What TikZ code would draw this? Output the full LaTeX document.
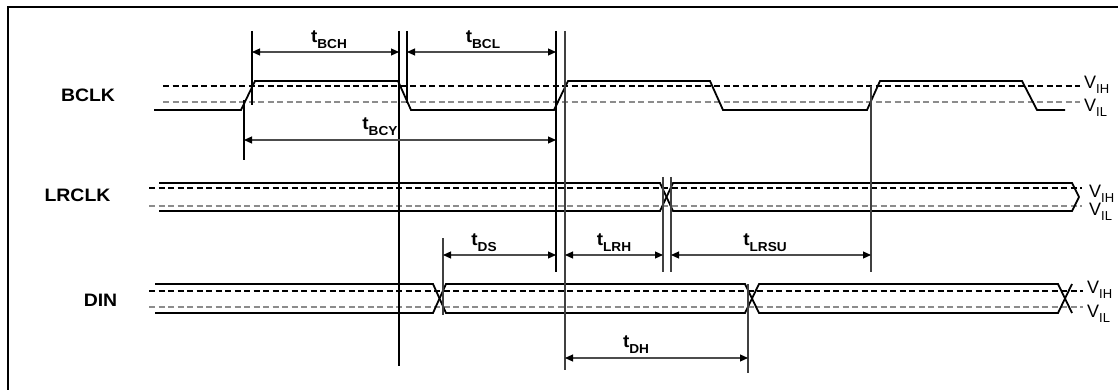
\documentclass[tikz,border=0pt]{standalone}
\usepackage{fontspec}
\setmainfont{Liberation Sans}
\usetikzlibrary{arrows.meta}
\newcommand\tlab[1]{\scalebox{1.05}[1]{\fontsize{18}{18}\selectfont\bfseries t\raisebox{-6pt}{\fontsize{13}{13}\selectfont #1}}}
\newcommand\vlab[1]{{\fontsize{18}{18}\selectfont V}\raisebox{-5pt}{\fontsize{13}{13}\selectfont #1}}
\newcommand\slab[1]{\scalebox{1.08}[1]{\fontsize{18}{18}\selectfont\bfseries #1}}
\begin{document}
\begin{tikzpicture}[x=1pt,y=-1pt,
  frame/.style={line width=2pt},
  sig/.style={line width=1.8pt,line join=miter},
  vih/.style={line width=1.2pt,dash pattern=on 6pt off 3.5pt},
  vil/.style={line width=1.2pt,black!45,dash pattern=on 6pt off 3.5pt},
  vthick/.style={line width=1.7pt},
  vthin/.style={line width=1.1pt,black!75},
  dim/.style={line width=1.1pt,black!70,{Triangle[length=8pt,width=7pt,color=black]}-{Triangle[length=8pt,width=7pt,color=black]}},
  lab/.style={inner sep=0pt},
  vl/.style={inner sep=0pt,anchor=base west}]
\clip (0,0) rectangle (1118,390);
\fill[white] (0,0) rectangle (1118,390);
\draw[frame] (7.5,7.5) rectangle (1130,400);

% signal names
\node[lab] (nBCLK) at (88,95) {\slab{BCLK}};
\node[lab] (nLRCLK) at (77.5,195.5) {\slab{LRCLK}};
\node[lab] (nDIN) at (100.5,300) {\slab{DIN}};

% BCLK thresholds
\draw[vih] (163,86) -- (1080,86);
\draw[vil] (163,102) -- (1080,102);
\draw[sig] (154,110)--(241,110)--(255,81)--(398,81)--(411,110)--(554,110)--(568,81)--(710,81)--(723,110)--(867,110)--(880,81)--(1022,81)--(1037,110)--(1065,110);
\node[vl] (bIH) at (1084,89) {\vlab{IH}};
\node[vl] (bIL) at (1084,112) {\vlab{IL}};

% LRCLK
\draw[vih] (149,188) -- (1082,188);
\draw[vil] (149,206) -- (1082,206);
\draw[sig] (159,183)--(660,183)--(673,211)--(1072,211)--(1079,197);
\draw[sig] (159,211)--(660,211)--(673,183)--(1072,183)--(1079,197);
\node[vl] (lIH) at (1089,197) {\vlab{IH}};
\node[vl] (lIL) at (1089,215) {\vlab{IL}};

% DIN
\draw[vih] (149,291) -- (1083,291);
\draw[vil] (149,307) -- (1083,307);
\draw[sig] (155,284)--(433,284)--(446,313)--(745,313)--(759,284)--(1058,284)--(1072,313);
\draw[sig] (155,313)--(433,313)--(446,284)--(745,284)--(759,313)--(1058,313)--(1072,284);
\node[vl] (dIH) at (1087,293) {\vlab{IH}};
\node[vl] (dIL) at (1087,317) {\vlab{IL}};

% vertical reference lines
\coordinate (v1t) at (252,31);  \coordinate (v1b) at (252,105);
\coordinate (v2t) at (244,100); \coordinate (v2b) at (244,160);
\coordinate (v3t) at (399,31);  \coordinate (v3b) at (399,366);
\coordinate (v4t) at (407,31);  \coordinate (v4b) at (407,103);
\coordinate (v5t) at (556,31);  \coordinate (v5b) at (556,272);
\coordinate (v6t) at (565,31);  \coordinate (v6b) at (565,370);
\coordinate (v7t) at (871,86);  \coordinate (v7b) at (871,272);
\coordinate (v8t) at (663,177); \coordinate (v8b) at (663,272);
\coordinate (v9t) at (671,177); \coordinate (v9b) at (671,272);
\coordinate (v10t) at (443,238); \coordinate (v10b) at (443,315);
\coordinate (v11t) at (748,284); \coordinate (v11b) at (748,373);
\draw[vthick] (v1t) -- (v1b);
\draw[vthick] (v2t) -- (v2b);
\draw[vthick] (v3t) -- (v3b);
\draw[vthick] (v4t) -- (v4b);
\draw[vthick] (v5t) -- (v5b);
\draw[vthin] (v6t) -- (v6b);
\draw[vthin] (v7t) -- (v7b);
\draw[vthin] (v8t) -- (v8b);
\draw[vthin] (v9t) -- (v9b);
\draw[vthin] (v10t) -- (v10b);
\draw[vthin] (v11t) -- (v11b);

% dimension arrows
\coordinate (bchL) at (252,52); \coordinate (bchR) at (399,52);
\coordinate (bclL) at (407,52); \coordinate (bclR) at (556,52);
\coordinate (bcyL) at (244,140); \coordinate (bcyR) at (556,140);
\coordinate (dsL) at (443,255); \coordinate (dsR) at (556,255);
\coordinate (lrhL) at (565,255); \coordinate (lrhR) at (663,255);
\coordinate (lrsuL) at (671,255); \coordinate (lrsuR) at (871,255);
\coordinate (dhL) at (565,358); \coordinate (dhR) at (748,358);
\draw[dim] (bchL) -- (bchR);
\draw[dim] (bclL) -- (bclR);
\draw[dim] (bcyL) -- (bcyR);
\draw[dim] (dsL) -- (dsR);
\draw[dim] (lrhL) -- (lrhR);
\draw[dim] (lrsuL) -- (lrsuR);
\draw[dim] (dhL) -- (dhR);

% timing labels
\node[lab] (tBCH) at (329,40) {\tlab{BCH}};
\node[lab] (tBCL) at (483,40) {\tlab{BCL}};
\node[lab] (tBCY) at (380,127) {\tlab{BCY}};
\node[lab] (tDS) at (484,243) {\tlab{DS}};
\node[lab] (tLRH) at (614,243) {\tlab{LRH}};
\node[lab] (tLRSU) at (765,243) {\tlab{LRSU}};
\node[lab] (tDH) at (636,345) {\tlab{DH}};
\end{tikzpicture}
\end{document}
